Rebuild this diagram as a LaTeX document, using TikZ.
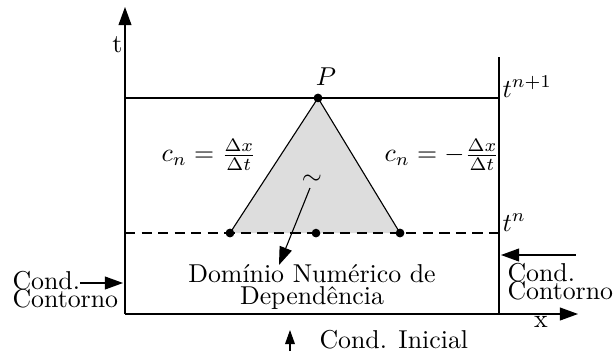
\documentclass[tikz,border=0pt]{standalone}
\usetikzlibrary{arrows.meta}
\begin{document}
\begin{tikzpicture}[x=0.387pt,y=-0.387pt,
  bound/.style={line width=1.05pt},
  thinline/.style={line width=0.43pt},
  bigarrow/.style={line width=0.43pt,-{Triangle[length=7pt,width=5pt]}},
  smallarrow/.style={line width=0.43pt,-{Triangle[length=5.5pt,width=3.8pt]}},
  dot/.style={circle,fill=black,inner sep=0pt,minimum size=3.3pt},
  lbl/.style={inner sep=0pt}]
\useasboundingbox (0,0) rectangle (614,353);
% coordinates
\coordinate (O) at (125,314);
\coordinate (LT) at (125,57);
\coordinate (TT) at (125,7);
\coordinate (RB) at (499,314);
\coordinate (RT) at (499,57);
\coordinate (XT) at (578,314);
\coordinate (A1) at (125,98);
\coordinate (A2) at (499,98);
\coordinate (D1) at (125,233);
\coordinate (D2) at (499,233);
% triangle
\node[dot] (P) at (318,98) {};
\node[dot] (L) at (230,233) {};
\node[dot] (M) at (316,233) {};
\node[dot] (R) at (400,233) {};
\fill[gray!27] (P.center) -- (L.center) -- (R.center) -- cycle;
\draw[thinline] (L.center) -- (P.center) -- (R.center);
% boundaries and axes
\draw[bound] (O) -- (LT);
\draw[bound] (RB) -- (RT);
\draw[bigarrow] (LT) -- (TT);
\draw[bigarrow] (O) -- (XT);
\draw[thinline] (A1) -- (A2);
\draw[thinline,dash pattern=on 4pt off 2.4pt] (D1) -- (D2);
% redraw dots on top
\node[dot] at (P) {};
\node[dot] at (L) {};
\node[dot] at (M) {};
\node[dot] at (R) {};
% labels
\node[lbl,anchor=east] (tl) at (123,45) {t};
\node[lbl] (xl) at (541,322) {x};
\node[lbl,anchor=base] (Pl) at (326,85) {$P$};
\node[lbl,anchor=base west] (tn1) at (502,97) {$t^{n+1}$};
\node[lbl,anchor=base west] (tn) at (502,231) {$t^{n}$};
\node[lbl] (cl) at (209,155) {$c_n=\frac{\Delta x}{\Delta t}$};
\node[lbl] (cr) at (442,155) {$c_n=-\frac{\Delta x}{\Delta t}$};
\node[lbl] (sim) at (312,180) {$\large\sim$};
\node[lbl,align=center,anchor=north] (dom) at (312,264) {Domínio Numérico de\\[-3.6pt]Dependência};
\coordinate (simS) at (310,188);
\draw[bigarrow] (simS) -- (279,265);
% left boundary condition
\node[lbl,align=left,anchor=north west] (lcc) at (12,271) {Cond.\\[-5.2pt]Contorno};
\coordinate (la) at (80,283);
\draw[bigarrow] (la) -- (123,283);
% right boundary condition
\node[lbl,align=left,anchor=north west] (rcc) at (507,263) {Cond.\\[-5.2pt]Contorno};
\coordinate (ra) at (576,255);
\draw[bigarrow] (ra) -- (501,255);
% initial condition
\node[lbl,anchor=base west] (ci) at (319,348) {Cond. Inicial};
\coordinate (ia) at (290,351);
\draw[smallarrow] (ia) -- (290,330);
\end{tikzpicture}
\end{document}
